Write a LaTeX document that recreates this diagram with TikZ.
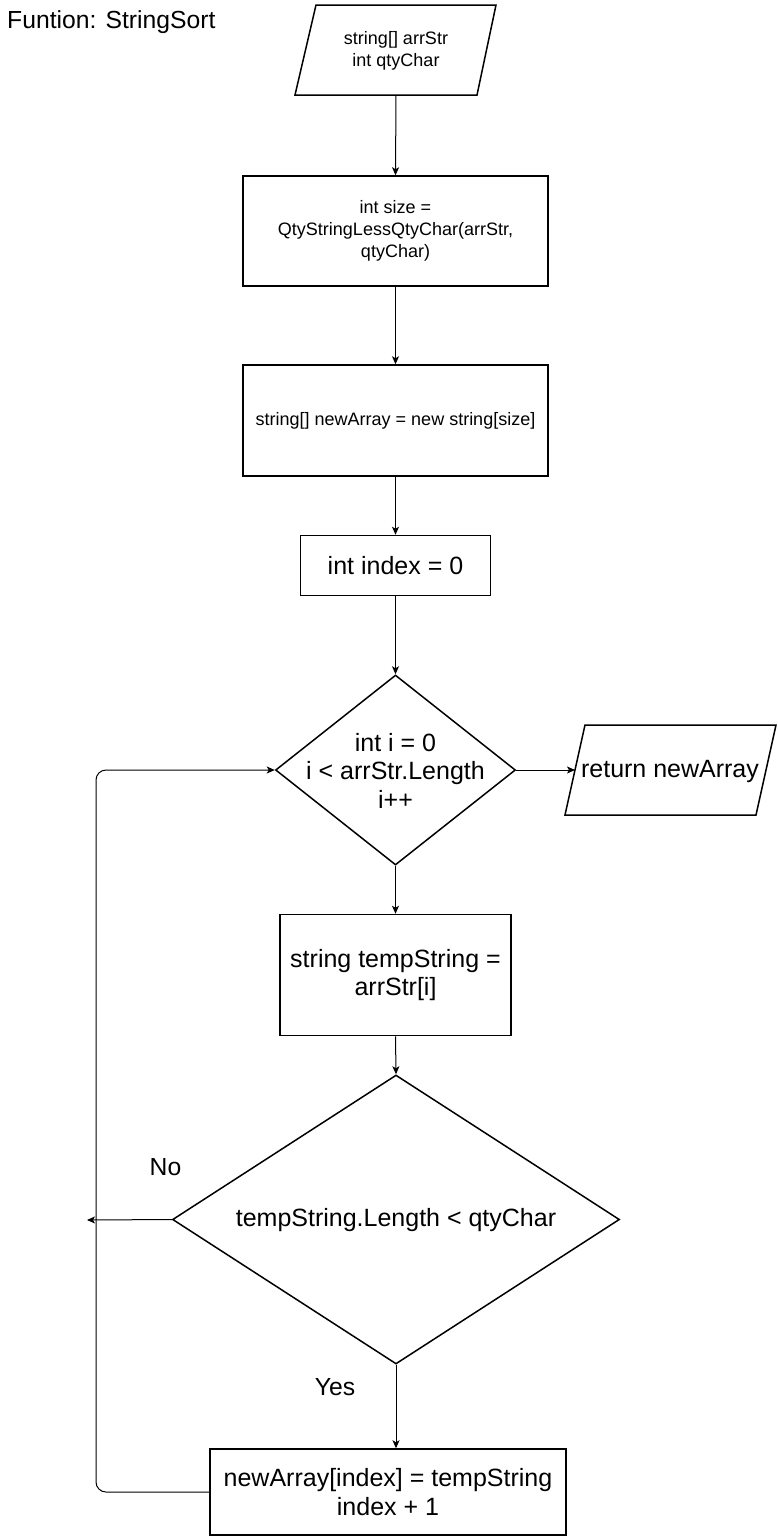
\documentclass[tikz,border=0pt]{standalone}
\usepackage{fontspec}
\setmainfont{Liberation Sans}
\usetikzlibrary{arrows.meta,shapes.geometric}
\begin{document}
\begin{tikzpicture}[x=1pt,y=-1pt,
  shapeline/.style={draw, line width=1.5pt},
  box/.style={shapeline, inner sep=0pt, align=center},
  small/.style={font=\fontsize{18}{21.7}\selectfont, align=center},
  big/.style={font=\fontsize{25}{28.5}\selectfont, align=center},
  conn/.style={line width=1pt, -{Stealth[length=8pt,width=7pt,inset=2pt]}},
  lbl/.style={inner sep=0pt, font=\fontsize{24.7}{28.5}\selectfont}]

\useasboundingbox (0,0) rectangle (777,1537);

% title
\node[lbl, anchor=west] (title) at (7,22) {Funtion: StringSort};

% input parallelogram
\draw[shapeline] (295,95) -- (316,5) -- (496,5) -- (477,95) -- cycle;
\node[small] (p1) at (396,51) {string[] arrStr\\int qtyChar};
\coordinate (p1b) at (396,95);

% process boxes
\node[box, small, minimum width=305pt, minimum height=110pt] (r1) at (395.5,231)
  {int size =\\QtyStringLessQtyChar(arrStr,\\qtyChar)};
\node[box, small, minimum width=305pt, minimum height=111pt] (r2) at (395.5,420.5)
  {string[] newArray = new string[size]};
\node[box, big, minimum width=190pt, minimum height=60pt] (r3) at (395.5,565.5)
  {int index = 0};

% loop diamond
\node[shapeline, diamond, inner sep=0pt, minimum width=240pt, minimum height=190pt] (d1) at (395.5,770) {};
\node[big] (d1t) at (395.5,770.5) {int i = 0\\i < arrStr.Length\\i++};

% output parallelogram
\draw[shapeline] (565,815) -- (585,725) -- (776,725) -- (756,815) -- cycle;
\node[big] (ret) at (670,771) {return newArray};
\coordinate (retL) at (575,770);

\node[box, big, minimum width=231pt, minimum height=121pt] (r4) at (395.5,975)
  {string tempString =\\arrStr[i]};

% condition diamond
\node[shapeline, diamond, inner sep=0pt, minimum width=447pt, minimum height=289pt] (d2) at (396,1219.5) {};
\node[big] (d2t) at (396,1220) {tempString.Length < qtyChar};

\node[box, big, minimum width=356pt, minimum height=86pt] (r5) at (388,1492)
  {newArray[index] = tempString\\index + 1};

% labels
\node[lbl] (no) at (165.5,1167) {No};
\node[lbl] (yes) at (335,1387) {Yes};

% loop coordinates
\coordinate (noend) at (87,1220);
\coordinate (lb) at (96,1492);
\coordinate (lt) at (96,770);

% connectors
\draw[conn] (p1b) -- (r1.north);
\draw[conn] (r1.south) -- (r2.north);
\draw[conn] (r2.south) -- (r3.north);
\draw[conn] (r3.south) -- (d1.north);
\draw[conn] (d1.east) -- (retL);
\draw[conn] (d1.south) -- (r4.north);
\draw[conn] (r4.south) -- (d2.north);
\draw[conn] (d2.south) -- (d2.south |- r5.north);
\draw[conn] (d2.west) -- (noend);
\draw[conn, rounded corners=10pt] (r5.west) -- (lb) -- (lt) -- (d1.west);
\end{tikzpicture}
\end{document}
